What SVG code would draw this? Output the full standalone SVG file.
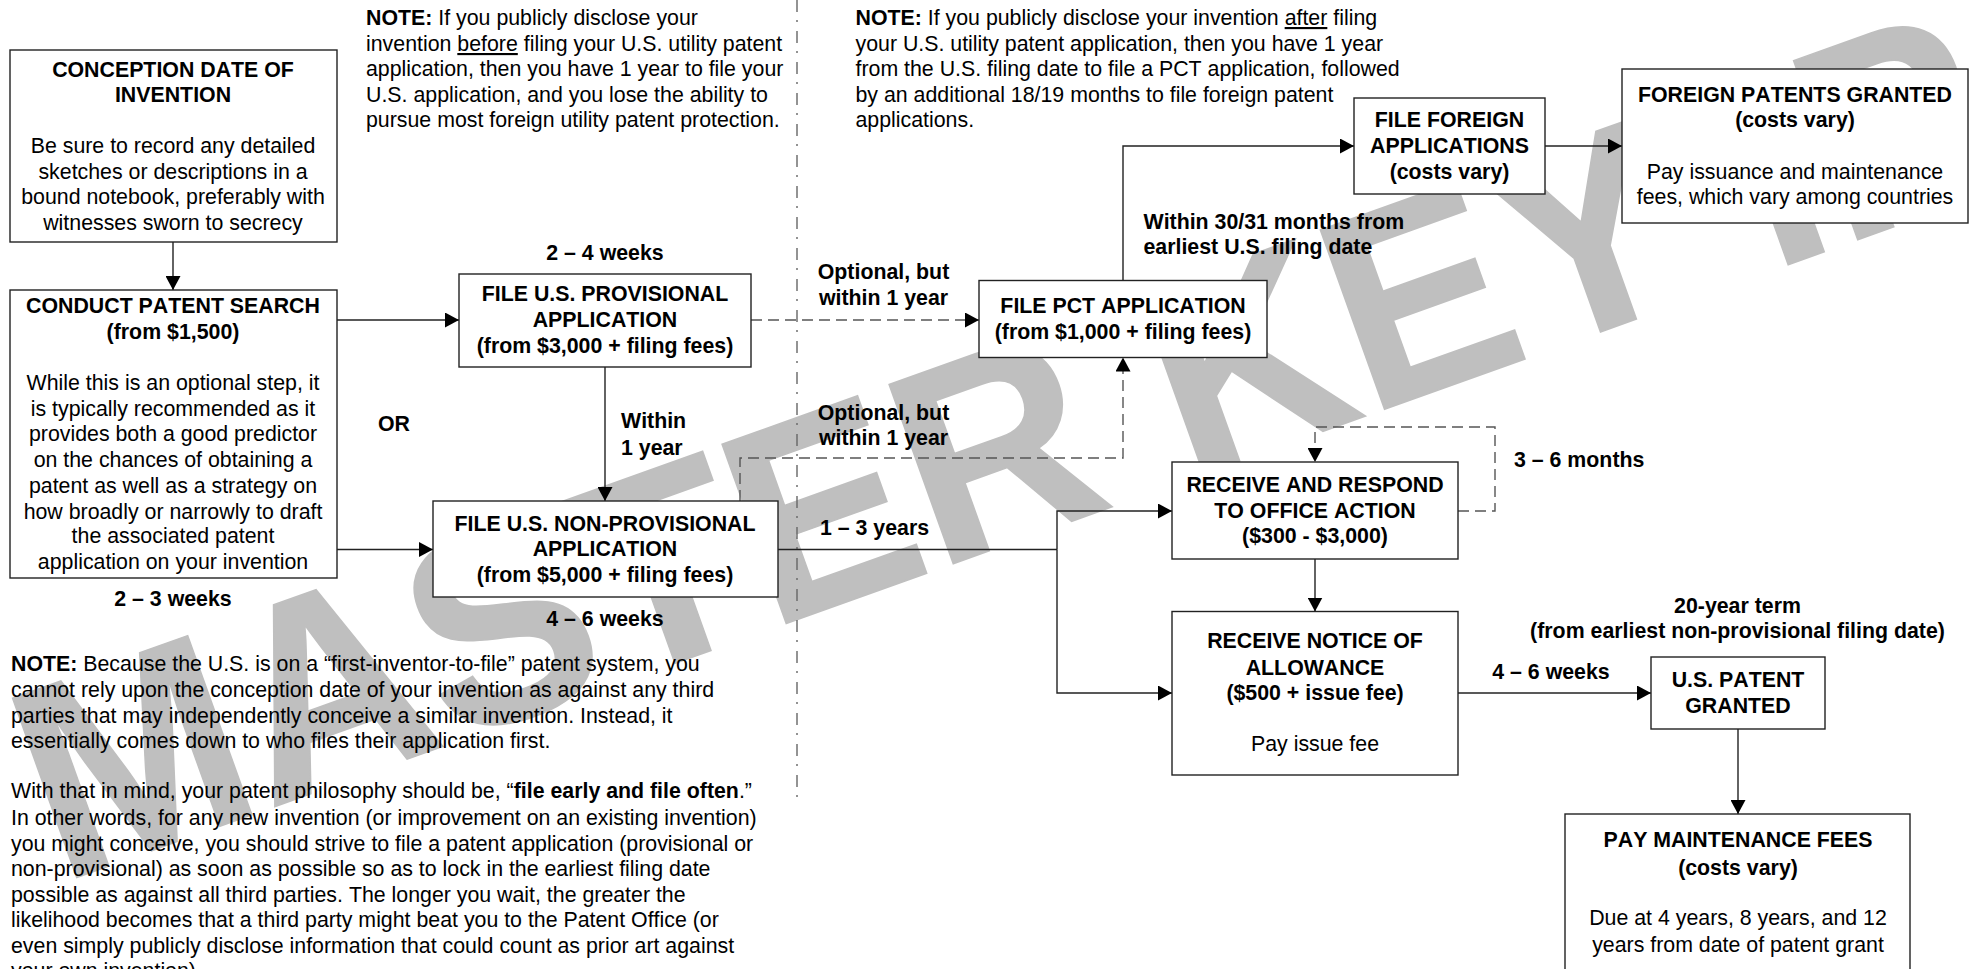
<svg xmlns="http://www.w3.org/2000/svg" width="1975" height="969" viewBox="0 0 1975 969">
<style>
text{font-family:"Liberation Sans",Arial,Helvetica,sans-serif;font-size:21.33px;font-kerning:none;fill:#000}
.b{font-weight:bold}
.c{text-anchor:middle}
.box{fill:#fff;stroke:#222;stroke-width:1.4}
.ln{fill:none;stroke:#222;stroke-width:1.4}
.d{fill:none;stroke:#555;stroke-width:1.4;stroke-dasharray:11 6}
.wm{font-size:266px;font-weight:bold;fill:#bfbfbf;stroke:#bfbfbf;stroke-width:1.5}
</style>
<defs>
<marker id="ah" viewBox="0 0 14 15" refX="14" refY="7.5" markerWidth="14" markerHeight="15" markerUnits="userSpaceOnUse" orient="auto"><path d="M0 0L14 7.5L0 15Z" fill="#000"/></marker>
</defs>
<rect width="1975" height="969" fill="#fff"/>
<g id="watermark"><text class="wm" transform="translate(60 883.500) rotate(-19.700) scale(1 1.040)">MASTER KEY IP</text></g>
<g id="divider"><path d="M797 0V800" fill="none" stroke="#666" stroke-width="1.4" stroke-dasharray="12 8 2 9"/></g>
<g id="connectors">
<path class="ln" marker-end="url(#ah)" d="M173 242V290"/>
<path class="ln" marker-end="url(#ah)" d="M337 320H459"/>
<path class="ln" marker-end="url(#ah)" d="M337 549.500H433"/>
<path class="ln" marker-end="url(#ah)" d="M605 367V501"/>
<path class="d" marker-end="url(#ah)" d="M751 320H979"/>
<path class="d" marker-end="url(#ah)" d="M740 501V458H1123V357.500"/>
<path class="ln" marker-end="url(#ah)" d="M1123 280V146H1354"/>
<path class="ln" marker-end="url(#ah)" d="M1545 146H1622"/>
<path class="ln" d="M778 549.500H1057"/>
<path class="ln" marker-end="url(#ah)" d="M1057 549.500V511H1172"/>
<path class="ln" marker-end="url(#ah)" d="M1057 549.500V693H1172"/>
<path class="d" marker-end="url(#ah)" d="M1458 511H1495V427H1315V462"/>
<path class="ln" marker-end="url(#ah)" d="M1315 559V611.500"/>
<path class="ln" marker-end="url(#ah)" d="M1458 693H1651"/>
<path class="ln" marker-end="url(#ah)" d="M1738 729V814"/>
</g>
<g id="conception"><rect class="box" x="10" y="50" width="327" height="192"/>
<text class="b c" x="173" y="76.500">CONCEPTION DATE OF</text><text class="b c" x="173" y="102">INVENTION</text>
<text class="c" x="173" y="153">Be sure to record any detailed</text><text class="c" x="173" y="179">sketches or descriptions in a</text><text class="c" x="173" y="204">bound notebook, preferably with</text><text class="c" x="173" y="230">witnesses sworn to secrecy</text></g>
<g id="search"><rect class="box" x="10" y="290" width="327" height="288"/>
<text class="b c" x="173" y="313">CONDUCT PATENT SEARCH</text><text class="b c" x="173" y="339">(from $1,500)</text>
<text class="c" x="173" y="390">While this is an optional step, it</text><text class="c" x="173" y="416">is typically recommended as it</text><text class="c" x="173" y="441">provides both a good predictor</text><text class="c" x="173" y="467">on the chances of obtaining a</text><text class="c" x="173" y="492.500">patent as well as a strategy on</text><text class="c" x="173" y="518.500">how broadly or narrowly to draft</text><text class="c" x="173" y="543">the associated patent</text><text class="c" x="173" y="569">application on your invention</text></g>
<g id="provisional"><rect class="box" x="459" y="274" width="292" height="93"/>
<text class="b c" x="605" y="301">FILE U.S. PROVISIONAL</text><text class="b c" x="605" y="327">APPLICATION</text><text class="b c" x="605" y="353">(from $3,000 + filing fees)</text></g>
<g id="nonprovisional"><rect class="box" x="433" y="501" width="345" height="96"/>
<text class="b c" x="605" y="531">FILE U.S. NON-PROVISIONAL</text><text class="b c" x="605" y="556">APPLICATION</text><text class="b c" x="605" y="582">(from $5,000 + filing fees)</text></g>
<g id="pct"><rect class="box" x="979" y="280.500" width="288" height="77"/>
<text class="b c" x="1123" y="313">FILE PCT APPLICATION</text><text class="b c" x="1123" y="339">(from $1,000 + filing fees)</text></g>
<g id="foreign-apps"><rect class="box" x="1354" y="98" width="191" height="96"/>
<text class="b c" x="1449.500" y="127">FILE FOREIGN</text><text class="b c" x="1449.500" y="153">APPLICATIONS</text><text class="b c" x="1449.500" y="179">(costs vary)</text></g>
<g id="foreign-patents"><rect class="box" x="1622" y="69" width="346" height="154"/>
<text class="b c" x="1795" y="102">FOREIGN PATENTS GRANTED</text><text class="b c" x="1795" y="127">(costs vary)</text>
<text class="c" x="1795" y="179">Pay issuance and maintenance</text><text class="c" x="1795" y="204">fees, which vary among countries</text></g>
<g id="office-action"><rect class="box" x="1172" y="462" width="286" height="97"/>
<text class="b c" x="1315" y="492">RECEIVE AND RESPOND</text><text class="b c" x="1315" y="518">TO OFFICE ACTION</text><text class="b c" x="1315" y="543">($300 - $3,000)</text></g>
<g id="allowance"><rect class="box" x="1172" y="611.500" width="286" height="163.500"/>
<text class="b c" x="1315" y="648">RECEIVE NOTICE OF</text><text class="b c" x="1315" y="675">ALLOWANCE</text><text class="b c" x="1315" y="700">($500 + issue fee)</text>
<text class="c" x="1315" y="751">Pay issue fee</text></g>
<g id="granted"><rect class="box" x="1651" y="657" width="174" height="72"/>
<text class="b c" x="1738" y="687">U.S. PATENT</text><text class="b c" x="1738" y="712.500">GRANTED</text></g>
<g id="maintenance"><rect class="box" x="1565" y="814" width="345" height="175"/>
<text class="b c" x="1738" y="847">PAY MAINTENANCE FEES</text><text class="b c" x="1738" y="874.500">(costs vary)</text>
<text class="c" x="1738" y="925">Due at 4 years, 8 years, and 12</text><text class="c" x="1738" y="952">years from date of patent grant</text></g>
<g id="labels">
<text class="b c" x="605" y="259.500">2 – 4 weeks</text>
<text class="b" x="378" y="431">OR</text>
<text class="b" x="621" y="428">Within</text><text class="b" x="621" y="454.500">1 year</text>
<text class="b c" x="173" y="605.500">2 – 3 weeks</text>
<text class="b c" x="605" y="625.500">4 – 6 weeks</text>
<text class="b" x="1143.500" y="229">Within 30/31 months from</text><text class="b" x="1143.500" y="254">earliest U.S. filing date</text>
<text class="b c" x="883.500" y="279">Optional, but</text><text class="b c" x="883.500" y="305">within 1 year</text>
<text class="b c" x="883.500" y="419.500">Optional, but</text><text class="b c" x="883.500" y="445">within 1 year</text>
<text class="b" x="1514" y="467">3 – 6 months</text>
<text class="b" x="820" y="535">1 – 3 years</text>
<text class="b c" x="1737.500" y="613">20-year term</text><text class="b c" x="1737.500" y="638">(from earliest non-provisional filing date)</text>
<text class="b c" x="1551" y="679">4 – 6 weeks</text>
</g>
<g id="notes">
<text x="366" y="25"><tspan class="b">NOTE:</tspan> If you publicly disclose your</text>
<text x="366" y="51">invention <tspan text-decoration="underline">before</tspan> filing your U.S. utility patent</text>
<text x="366" y="76">application, then you have 1 year to file your</text>
<text x="366" y="102">U.S. application, and you lose the ability to</text>
<text x="366" y="127">pursue most foreign utility patent protection.</text>
<text x="855.500" y="25"><tspan class="b">NOTE:</tspan> If you publicly disclose your invention <tspan text-decoration="underline">after</tspan> filing</text>
<text x="855.500" y="51">your U.S. utility patent application, then you have 1 year</text>
<text x="855.500" y="76">from the U.S. filing date to file a PCT application, followed</text>
<text x="855.500" y="102">by an additional 18/19 months to file foreign patent</text>
<text x="855.500" y="127">applications.</text>
<text x="11" y="670.500"><tspan class="b">NOTE:</tspan> Because the U.S. is on a “first-inventor-to-file” patent system, you</text>
<text x="11" y="696.500">cannot rely upon the conception date of your invention as against any third</text>
<text x="11" y="722.500">parties that may independently conceive a similar invention. Instead, it</text>
<text x="11" y="747.500">essentially comes down to who files their application first.</text>
<text x="11" y="798">With that in mind, your patent philosophy should be, “<tspan class="b">file early and file often</tspan>.”</text>
<text x="11" y="825">In other words, for any new invention (or improvement on an existing invention)</text>
<text x="11" y="850.500">you might conceive, you should strive to file a patent application (provisional or</text>
<text x="11" y="876">non-provisional) as soon as possible so as to lock in the earliest filing date</text>
<text x="11" y="901.500">possible as against all third parties. The longer you wait, the greater the</text>
<text x="11" y="926.500">likelihood becomes that a third party might beat you to the Patent Office (or</text>
<text x="11" y="952.500">even simply publicly disclose information that could count as prior art against</text>
<text x="11" y="978">your own invention).</text>
</g>
</svg>
